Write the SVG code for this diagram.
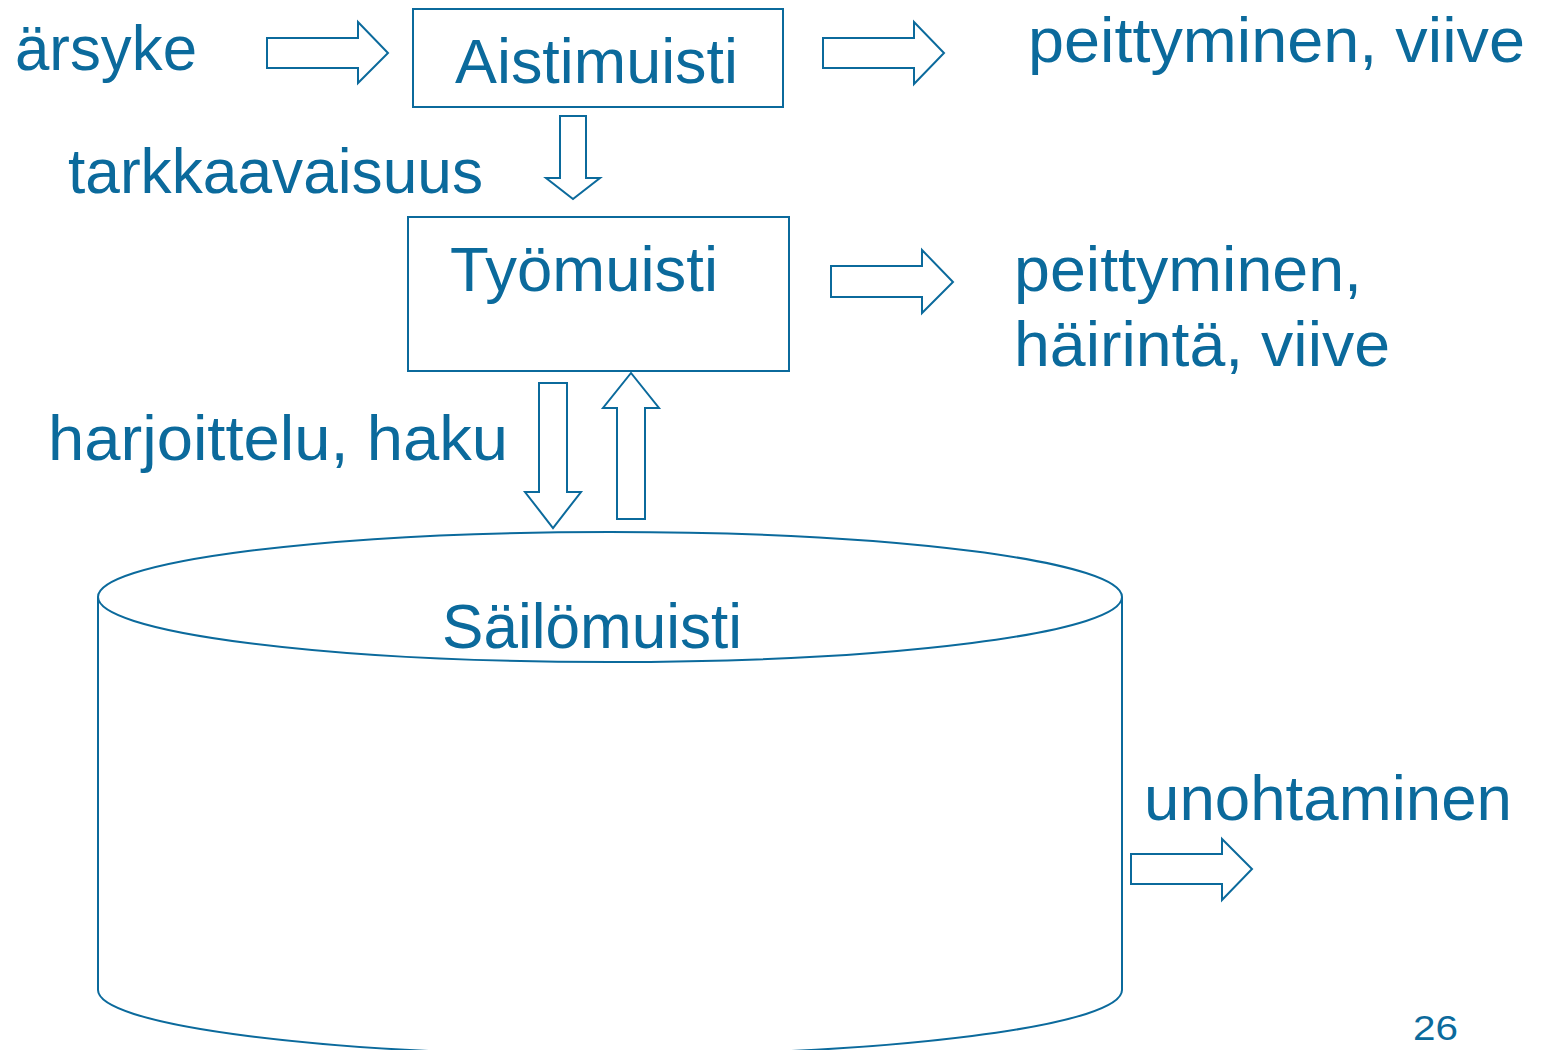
<svg xmlns="http://www.w3.org/2000/svg" width="1546" height="1050" viewBox="0 0 1546 1050">
<style>
.s{fill:#fff;stroke:#0b6a9c;stroke-width:2;stroke-linejoin:miter}
.t{font-family:"Liberation Sans",Arial,sans-serif;fill:#0b6a9c;font-size:63px}
</style>
<rect width="1546" height="1050" fill="#fff"/>
<g id="sailomuisti">
<path class="s" d="M98,597 L98,990 A512,65 0 0 0 1122,990 L1122,597"/>
<ellipse class="s" cx="610" cy="597" rx="512" ry="65"/>
<text class="t" x="442" y="648" textLength="300" lengthAdjust="spacingAndGlyphs">Säilömuisti</text>
</g>
<g id="aistimuisti">
<rect class="s" x="413" y="9" width="370" height="98"/>
<text class="t" x="455" y="83" textLength="283" lengthAdjust="spacingAndGlyphs">Aistimuisti</text>
</g>
<g id="tyomuisti">
<rect class="s" x="408" y="217" width="381" height="154"/>
<text class="t" x="450" y="291" textLength="268" lengthAdjust="spacingAndGlyphs">Työmuisti</text>
</g>
<g id="labels">
<text class="t" x="15" y="70" textLength="182" lengthAdjust="spacingAndGlyphs">ärsyke</text>
<text class="t" x="1028" y="62" textLength="497" lengthAdjust="spacingAndGlyphs">peittyminen, viive</text>
<text class="t" x="68" y="193" textLength="415" lengthAdjust="spacingAndGlyphs">tarkkaavaisuus</text>
<text class="t" x="1014" y="291" textLength="348" lengthAdjust="spacingAndGlyphs">peittyminen,</text>
<text class="t" x="1014" y="366" textLength="376" lengthAdjust="spacingAndGlyphs">häirintä, viive</text>
<text class="t" x="48" y="460" textLength="460" lengthAdjust="spacingAndGlyphs">harjoittelu, haku</text>
<text class="t" x="1144" y="820" textLength="368" lengthAdjust="spacingAndGlyphs">unohtaminen</text>
<text class="t" x="1413" y="1040" style="font-size:35px" textLength="45" lengthAdjust="spacingAndGlyphs">26</text>
</g>
<g id="connectors">
<path class="s" d="M267,38 H358 V22 L388,53 L358,83 V68 H267 Z"/>
<path class="s" d="M823,38 H914 V22 L944,53 L914,84 V68 H823 Z"/>
<path class="s" d="M560,116 H586 V178 H600 L573,199 L546,178 H560 Z"/>
<path class="s" d="M831,266 H922 V250 L953,282 L922,313 V297 H831 Z"/>
<path class="s" d="M539,383 H567 V492 H581 L553,528 L525,492 H539 Z"/>
<path class="s" d="M617,519 V408 H603 L631,373 L659,408 H645 V519 Z"/>
<path class="s" d="M1131,854 H1222 V839 L1252,869 L1222,900 V884 H1131 Z"/>
</g>
</svg>
